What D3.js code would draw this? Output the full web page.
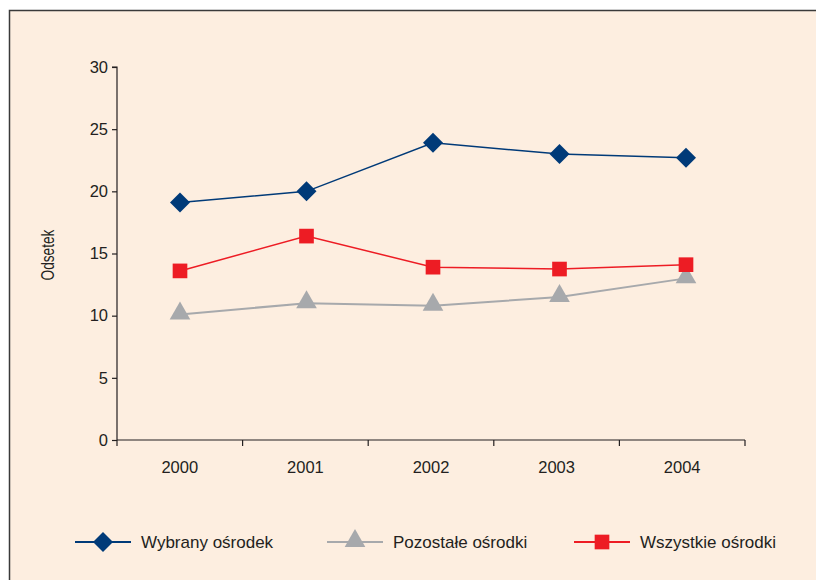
<!DOCTYPE html>
<html><head><meta charset="utf-8">
<script src="https://cdn.jsdelivr.net/npm/d3@7"></script>
<style>body{margin:0;background:#fff;}svg{display:block;}</style>
</head><body>
<svg id="c" width="816" height="580"></svg>
<script>
const years = ["2000","2001","2002","2003","2004"];
const wybrany = [19.1, 20.0, 23.9, 23.0, 22.7];
const pozostale = [10.1, 11.0, 10.8, 11.5, 13.0];
const wszystkie = [13.6, 16.4, 13.9, 13.75, 14.1];
const yTicks = [0, 5, 10, 15, 20, 25, 30];
const seriesNames = ["Wybrany ośrodek", "Pozostałe ośrodki", "Wszystkie ośrodki"];

const svg = d3.select("#c");
svg.append("rect").attr("x",9.5).attr("y",10.5).attr("width",820).attr("height",580)
  .attr("fill","#fdeee0").attr("stroke","#3a3a3a").attr("stroke-width",1.5);

const x = d3.scaleBand().domain(years).range([117, 745]);
const xm = d3.scalePoint().domain(years).range([180, 686]);
const y = d3.scaleLinear().domain([0,30]).range([440, 67]);
const font = "'Liberation Sans', Arial, sans-serif";
const txt = "#231f20";

// y axis
const ya = svg.append("g").attr("transform","translate(117,0)")
  .call(d3.axisLeft(y).tickValues(yTicks).tickSize(5).tickPadding(4));
ya.select(".domain").attr("stroke","#231f20").attr("stroke-width",1.2).attr("d","M-5,67H0V440");
ya.selectAll(".tick line").attr("stroke","#231f20").attr("stroke-width",1.2);
ya.selectAll(".tick text").attr("font-family",font).attr("font-size",16.5).attr("fill",txt);

// x axis
const xa = svg.append("g").attr("transform","translate(0,440)")
  .call(d3.axisBottom(x).tickSize(0).tickPadding(21));
xa.select(".domain").attr("stroke","#231f20").attr("stroke-width",1.2).attr("d","M117,0H745");
xa.selectAll(".tick text").attr("font-family",font).attr("font-size",16.5).attr("fill",txt);
const bounds = years.map(d => x(d)).concat([x(years[years.length-1]) + x.bandwidth()]);
xa.selectAll(".bnd").data(bounds).join("line").attr("class","bnd")
  .attr("x1",d=>d).attr("x2",d=>d).attr("y1",0).attr("y2",6)
  .attr("stroke","#231f20").attr("stroke-width",1.2);

svg.append("text").attr("transform","translate(54,255) rotate(-90) scale(0.72,1)")
  .attr("text-anchor","middle").attr("font-family",font)
  .attr("font-size",19).attr("fill",txt).text("Odsetek");

const line = d3.line().x((d,i)=>xm(years[i])).y(d=>y(d));

const series = [
  {name: seriesNames[0], vals: wybrany, color:"#003a78", sym: d3.symbolSquare, size: 200, rot:45, dy:0},
  {name: seriesNames[1], vals: pozostale, color:"#a7a9ac", sym: d3.symbolTriangle, size: 185, rot:0, dy:-1},
  {name: seriesNames[2], vals: wszystkie, color:"#ed1c24", sym: d3.symbolSquare, size: 215, rot:0, dy:0},
];
// draw order: gray, red, blue
[series[1], series[2], series[0]].forEach(s => {
  svg.append("path").attr("d", line(s.vals)).attr("fill","none")
    .attr("stroke", s.color).attr("stroke-width", s === series[1] ? 2 : 1.5);
  svg.selectAll(null).data(s.vals).join("path")
    .attr("transform",(d,i)=>`translate(${xm(years[i])},${y(d)+s.dy}) rotate(${s.rot})`)
    .attr("d", d3.symbol().type(s.sym).size(s.size)).attr("fill", s.color);
});

// legend
const legX = [75, 327, 574];
series.forEach((s,i) => {
  const g = svg.append("g").attr("transform",`translate(${legX[i]},542)`);
  g.append("line").attr("x1",0).attr("x2",56).attr("stroke",s.color).attr("stroke-width",2);
  g.append("path").attr("transform",`translate(28,${s.dy}) rotate(${s.rot})`).attr("d",d3.symbol().type(s.sym).size(s.size)).attr("fill",s.color);
  g.append("text").attr("x",66).attr("y",6).attr("font-family",font).attr("font-size",17).attr("fill",txt).text(s.name);
});
</script>
</body></html>
